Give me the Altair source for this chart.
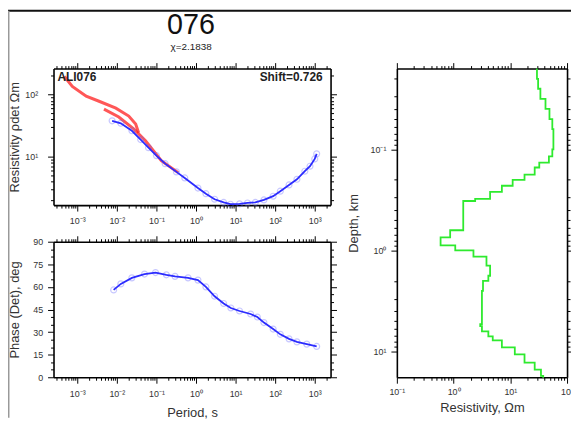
import math
import altair as alt
import pandas as pd

# ---------------- data ----------------
# apparent resistivity, red branches (period s, rho ohm-m)
red_a_period = [0.000473, 0.00075, 0.00168, 0.00355, 0.00944, 0.020, 0.0299, 0.0355]
red_a_rho = [196, 136, 94.4, 78.5, 60.8, 45.4, 33.9, 24.4]
red_b_period = [0.00473, 0.0112, 0.0266, 0.053, 0.133, 0.355]
red_b_rho = [58.6, 43.8, 28.2, 18.2, 8.7, 5.6]

# apparent resistivity, blue (det) curve
blue_period = [0.0076, 0.0126, 0.024, 0.04, 0.063, 0.1, 0.166, 0.32, 0.52, 1.12,
               1.78, 2.95, 5.0, 7.4, 12.6, 20, 31.6, 52, 89, 135, 224, 355,
               562, 760, 1000, 1120]
blue_rho = [38, 34.7, 26.3, 19, 14.1, 10.5, 7.8, 5.75, 4.6, 3.16,
            2.57, 2.09, 1.86, 1.74, 1.76, 1.82, 1.86, 2.04, 2.34, 2.82, 3.55, 4.37,
            5.9, 7.1, 9.3, 11.2]

# phase (det)
phase_period = [0.0083, 0.0126, 0.024, 0.05, 0.095, 0.178, 0.295, 0.63, 1.12, 1.78,
                2.95, 5.0, 7.6, 12.6, 24, 35.5, 52, 89, 135, 224, 355, 630, 1120]
phase_deg = [58, 62, 66, 68.5, 69.5, 68, 67, 66, 64.5, 60,
             53.8, 49, 46, 44, 42, 40, 36.3, 32, 28.5, 25.5, 23.5, 22, 20.5]

# 1-D model: layer top depth (km) and resistivity (ohm-m)
model_top = [0.0158, 0.0200, 0.0251, 0.0316, 0.0398, 0.0501, 0.0631, 0.0794, 0.100,
             0.117, 0.135, 0.151, 0.178, 0.200, 0.229, 0.263, 0.309, 0.324, 0.631,
             0.741, 0.891, 1.00, 1.15, 1.41, 1.78, 2.00, 2.51, 5.37, 5.62, 6.31,
             7.08, 7.76, 9.12, 10.7, 12.9, 15.1, 17.4]
model_rho = [29.5, 30.9, 33.9, 41.7, 49, 55, 57.5, 57.5, 55,
             47.9, 32.4, 26.9, 17.8, 11, 7.1, 4.4, 2.4, 1.48, 0.87,
             0.59, 1.07, 2.24, 3.8, 4.4, 4.1, 3.3, 3.16, 2.95, 3.16, 4.1,
             4.9, 7.1, 12, 17.8, 26.9, 34.7, 38]
model_bottom = 18.2

station = "076"
chi_text = "χ=2.1838"
site_text = "ALI076"
shift_text = "Shift=0.726"

# ---------------- tables ----------------
red_df = pd.concat([
    pd.DataFrame({"period": red_a_period, "rho": red_a_rho, "branch": "a"}),
    pd.DataFrame({"period": red_b_period, "rho": red_b_rho, "branch": "b"}),
])
blue_df = pd.DataFrame({"period": blue_period, "rho": blue_rho})
phase_df = pd.DataFrame({"period": phase_period, "phase": phase_deg})

rows = []
bottoms = model_top[1:] + [model_bottom]
for i, (t, b, r) in enumerate(zip(model_top, bottoms, model_rho)):
    rows.append({"idx": 2 * i, "depth": t, "res": r})
    rows.append({"idx": 2 * i + 1, "depth": b, "res": r})
model_df = pd.DataFrame(rows)

# ---------------- panel geometry (one shared view, panels via scale ranges) ----------------
W_L = 280                  # width of the two left panels
TOP_H = 138                # top-left panel height
BOT_Y0, BOT_Y1 = 175, 312  # bottom-left panel vertical range
R_X0, R_X1 = 347, 519      # right panel horizontal range
VIEW_W, VIEW_H = 519, 312

# ---------------- axis helpers ----------------
SUP = str.maketrans("-0123456789", "⁻⁰¹²³⁴⁵⁶⁷⁸⁹")
IS_DEC = "abs(log(datum.value)/LN10 - round(log(datum.value)/LN10)) < 0.000001"
FONT = "Liberation Sans"


def log_values(lo, hi):
    vals = []
    for k in range(math.floor(math.log10(lo)) - 1, math.ceil(math.log10(hi)) + 1):
        for m in range(1, 10):
            v = float(f"{m}e{k}")
            if lo <= v <= hi:
                vals.append(v)
    return vals


def base_axis(orient, offset, labels, title, labelPadding, titlePadding):
    kw = dict(orient=orient, offset=offset, grid=False, labelOverlap=False, labelFlush=False)
    if labels:
        kw.update(labelPadding=labelPadding)
    else:
        kw.update(labels=False)
    if title:
        kw.update(title=title, titlePadding=titlePadding)
    else:
        kw.update(title=None)
    return kw


def log_axis(orient, lo, hi, offset=0, labels=True, title="", labelPadding=4, titlePadding=5):
    kmin = math.ceil(math.log10(lo) - 1e-9)
    kmax = math.floor(math.log10(hi) + 1e-9)
    arr = "[" + ",".join("'10" + str(k).translate(SUP) + "'" for k in range(kmin, kmax + 1)) + "]"
    kw = base_axis(orient, offset, labels, title, labelPadding, titlePadding)
    kw.update(values=log_values(lo, hi),
              tickSize={"condition": {"test": IS_DEC, "value": 6}, "value": 3})
    if labels:
        kw.update(labelExpr=f"{IS_DEC} ? {arr}[round(log(datum.value)/LN10) - ({kmin})] : ''")
    return alt.Axis(**kw)


def lin_axis(orient, offset=0, labels=True, title="", labelPadding=5, titlePadding=5):
    kw = base_axis(orient, offset, labels, title, labelPadding, titlePadding)
    kw.update(values=list(range(0, 91, 5)),
              tickSize={"condition": {"test": "datum.value % 15 == 0", "value": 6}, "value": 3})
    if labels:
        kw.update(labelExpr="datum.value % 15 == 0 ? datum.label : ''")
    return alt.Axis(**kw)


# ---------------- scales ----------------
P_LO, P_HI = 10 ** -3.6, 10 ** 3.4
R_LO, R_HI = 10 ** 0.226, 10 ** 2.42
M_LO, M_HI = 0.1, 100.0
D_LO, D_HI = 10 ** -1.8, 10 ** 1.255

xP = alt.Scale(type="log", domain=[P_LO, P_HI], range=[0, W_L], nice=False)
yR = alt.Scale(type="log", domain=[R_LO, R_HI], range=[TOP_H, 0], nice=False)
yPh = alt.Scale(domain=[0, 90], range=[BOT_Y1, BOT_Y0], nice=False, zero=False)
xM = alt.Scale(type="log", domain=[M_LO, M_HI], range=[R_X0, R_X1], nice=False)
yD = alt.Scale(type="log", domain=[D_LO, D_HI], range=[0, VIEW_H], nice=False)

one = pd.DataFrame({"k": [0]})

# ---------------- top-left: apparent resistivity ----------------
X_top = alt.X("period:Q", scale=xP,
              axis=log_axis("bottom", P_LO, P_HI, offset=TOP_H - VIEW_H, labelPadding=6))
Y_top = alt.Y("rho:Q", scale=yR,
              axis=log_axis("left", R_LO, R_HI, title="Resistivity ρdet Ωm",
                            labelPadding=10, titlePadding=3))
red = alt.Chart(red_df).mark_line(color="#ff1f1f", strokeWidth=3, opacity=0.75).encode(
    x=X_top, y=Y_top, detail="branch:N")
blue_pts = alt.Chart(blue_df).mark_point(shape="circle", filled=False, size=36, color="#6464ff",
                                         opacity=0.35, strokeWidth=1.2).encode(x=X_top, y=Y_top)
blue_line = alt.Chart(blue_df).mark_line(color="#2b2bff", strokeWidth=1.8).encode(x=X_top, y=Y_top)
rho_group = alt.layer(red, blue_pts, blue_line)
rho_mirror = alt.Chart(blue_df).mark_point(opacity=0).encode(
    x=alt.X("period:Q", scale=xP, axis=log_axis("top", P_LO, P_HI, labels=False)),
    y=alt.Y("rho:Q", scale=yR, axis=log_axis("right", R_LO, R_HI, offset=W_L - VIEW_W, labels=False)))

# ---------------- bottom-left: phase ----------------
X_bot = alt.X("period:Q", scale=xP,
              axis=log_axis("bottom", P_LO, P_HI, title="Period, s", labelPadding=6, titlePadding=9))
Y_bot = alt.Y("phase:Q", scale=yPh,
              axis=lin_axis("left", title="Phase (Det), deg", labelPadding=5, titlePadding=11))
ph_pts = alt.Chart(phase_df).mark_point(shape="circle", filled=False, size=36, color="#6464ff",
                                        opacity=0.35, strokeWidth=1.2).encode(x=X_bot, y=Y_bot)
ph_line = alt.Chart(phase_df).mark_line(color="#2b2bff", strokeWidth=1.8).encode(x=X_bot, y=Y_bot)
ph_group = alt.layer(ph_pts, ph_line)
ph_mirror = alt.Chart(phase_df).mark_point(opacity=0).encode(
    x=alt.X("period:Q", scale=xP, axis=log_axis("top", P_LO, P_HI, offset=-BOT_Y0, labels=False)),
    y=alt.Y("phase:Q", scale=yPh, axis=lin_axis("right", offset=W_L - VIEW_W, labels=False)))

# ---------------- right: 1-D model ----------------
X_m = alt.X("res:Q", scale=xM,
            axis=log_axis("bottom", M_LO, M_HI, title="Resistivity, Ωm", labelPadding=4, titlePadding=6))
Y_m = alt.Y("depth:Q", scale=yD,
            axis=log_axis("left", D_LO, D_HI, offset=-R_X0, title="Depth, km",
                          labelPadding=5, titlePadding=10))
model_line = alt.Chart(model_df).mark_line(color="#2eea2e", strokeWidth=1.8).encode(
    x=X_m, y=Y_m, order="idx:Q")
m_mirror = alt.Chart(model_df).mark_point(opacity=0).encode(
    x=alt.X("res:Q", scale=xM, axis=log_axis("top", M_LO, M_HI, labels=False)),
    y=alt.Y("depth:Q", scale=yD, axis=log_axis("right", D_LO, D_HI, labels=False)))

# ---------------- texts and page borders ----------------
t_station = alt.Chart(one).mark_text(text=station, font=FONT, fontSize=29, align="center",
                                     baseline="alphabetic", color="#111").encode(
    x=alt.value(139), y=alt.value(-35))
t_chi = alt.Chart(one).mark_text(text=chi_text, font=FONT, fontSize=10, align="center",
                                 baseline="alphabetic", color="#222").encode(
    x=alt.value(139), y=alt.value(-19))
t_site = alt.Chart(one).mark_text(text=site_text, font=FONT, fontSize=12, fontWeight="bold",
                                  align="left", baseline="middle", color="#222").encode(
    x=alt.value(4), y=alt.value(9))
t_shift = alt.Chart(one).mark_text(text=shift_text, font=FONT, fontSize=12, fontWeight="bold",
                                   align="right", baseline="middle", color="#222").encode(
    x=alt.value(W_L - 8), y=alt.value(9))
border_top = alt.Chart(one).mark_rule(color="#111", strokeWidth=2).encode(
    x=alt.value(-55), x2=alt.value(540), y=alt.value(-58.5))
border_left = alt.Chart(one).mark_rule(color="#999", strokeWidth=2).encode(
    x=alt.value(-45.5), y=alt.value(-58.5), y2=alt.value(353))
# off-page helpers fixing the layout extents (top-left and bottom)
anchor_tl = alt.Chart(one).mark_rule(color="white", strokeWidth=1).encode(
    x=alt.value(-60), y=alt.value(-80), y2=alt.value(-79))
anchor_b = alt.Chart(one).mark_rule(color="white", strokeWidth=1).encode(
    x=alt.value(0), y=alt.value(364), y2=alt.value(365))

chart = alt.layer(
    rho_group, rho_mirror, ph_group, ph_mirror, model_line, m_mirror,
    t_station, t_chi, t_site, t_shift, border_top, border_left, anchor_tl, anchor_b,
).resolve_scale(x="independent", y="independent").resolve_axis(
    x="independent", y="independent"
).properties(
    width=VIEW_W, height=VIEW_H,
    padding={"left": -15, "top": -22, "right": -18, "bottom": -11}, background="white",
).configure_view(strokeWidth=0).configure_axis(
    domainColor="black", domainWidth=1.6, tickColor="black", tickWidth=1,
    labelFont=FONT, labelFontSize=9, labelColor="#333",
    titleFont=FONT, titleFontSize=13, titleFontWeight="normal", titleColor="#333",
)

chart.save("out.html", embed_options={"renderer": "svg", "actions": False})
